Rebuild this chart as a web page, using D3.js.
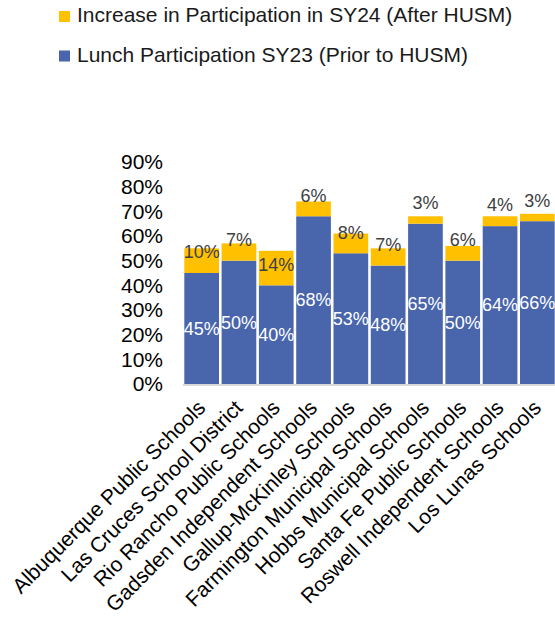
<!DOCTYPE html>
<html>
<head>
<meta charset="utf-8">
<script src="https://cdn.jsdelivr.net/npm/d3@7"></script>
<style>
  html, body { margin: 0; padding: 0; background: #fff; }
  svg { display: block; font-family: "Liberation Sans", Arial, sans-serif; }
</style>
</head>
<body>
<div id="chart"></div>
<script>
'use strict'

// districts along the x axis
const districts = [
    "Albuquerque Public Schools",
    "Las Cruces School District",
    "Rio Rancho Public Schools",
    "Gadsden Independent Schools",
    "Gallup-McKinley Schools",
    "Farmington Municipal Schools",
    "Hobbs Municipal Schools",
    "Santa Fe Public Schools",
    "Roswell Independent Schools",
    "Los Lunas Schools"
]

// lunch participation SY23 (before HUSM)
const sy23 = [0.45, 0.50, 0.40, 0.68, 0.53, 0.48, 0.65, 0.50, 0.64, 0.66]

// increase in participation SY24 (after HUSM)
const increase = [0.10, 0.07, 0.14, 0.06, 0.08, 0.07, 0.03, 0.06, 0.04, 0.03]

const yTicks = [0, 0.1, 0.2, 0.3, 0.4, 0.5, 0.6, 0.7, 0.8, 0.9]

const legendItems = [
    { label: "Increase in Participation in SY24 (After HUSM)", color: "#FFC000" },
    { label: "Lunch Participation SY23 (Prior to HUSM)", color: "#4965AC" }
]

////////////////////////////////////
//////////// svg setup /////////////
////////////////////////////////////

const svgWidth = 555
const svgHeight = 617

const svg = d3.select("#chart")
    .append("svg")
    .attr("width", svgWidth)
    .attr("height", svgHeight)

const x = d3.scaleBand()
    .domain(districts)
    .range([183, 556])
    .paddingInner(0.07)
    .paddingOuter(0.035)

const y = d3.scaleLinear()
    .domain([0, 0.9])
    .range([384, 162])

const rows = districts.map((d, i) => ({ name: d, base: sy23[i], inc: increase[i] }))

////////////////////////////////////
////////////// legend //////////////
////////////////////////////////////

const legend = svg.append("g")
    .selectAll("g")
    .data(legendItems)
    .join("g")
    .attr("transform", (d, i) => `translate(59, ${11 + i * 39.5})`)

legend.append("rect")
    .attr("width", 11)
    .attr("height", 11)
    .attr("fill", d => d.color)

legend.append("text")
    .attr("x", 18)
    .attr("y", 11)
    .attr("font-size", 21)
    .attr("fill", "#1a1a1a")
    .text(d => d.label)

////////////////////////////////////
/////////////// axes ///////////////
////////////////////////////////////

const yAxis = svg.append("g")
    .attr("transform", "translate(183,0)")
    .call(d3.axisLeft(y).tickValues(yTicks).tickFormat(d3.format(".0%")).tickSize(0).tickPadding(20))

yAxis.select(".domain").remove()
yAxis.selectAll("text")
    .attr("font-size", 21)
    .attr("font-family", "Liberation Sans, Arial, sans-serif")
    .attr("fill", "#000")

////////////////////////////////////
/////////////// bars ///////////////
////////////////////////////////////

const bars = svg.append("g")

bars.selectAll(".base")
    .data(rows)
    .join("rect")
    .attr("class", "base")
    .attr("x", d => x(d.name))
    .attr("width", x.bandwidth())
    .attr("y", d => y(d.base))
    .attr("height", d => y(0) - y(d.base))
    .attr("fill", "#4965AC")

bars.selectAll(".inc")
    .data(rows)
    .join("rect")
    .attr("class", "inc")
    .attr("x", d => x(d.name))
    .attr("width", x.bandwidth())
    .attr("y", d => y(d.base + d.inc))
    .attr("height", d => y(d.base) - y(d.base + d.inc))
    .attr("fill", "#FFC000")

// x axis line
svg.append("line")
    .attr("x1", 183)
    .attr("x2", 556)
    .attr("y1", y(0) + 1)
    .attr("y2", y(0) + 1)
    .attr("stroke", "#D9D9D9")
    .attr("stroke-width", 2)

////////////////////////////////////
/////////// data labels ////////////
////////////////////////////////////

const fmt = d3.format(".0%")

svg.append("g")
    .selectAll("text")
    .data(rows)
    .join("text")
    .attr("x", d => x(d.name) + x.bandwidth() / 2)
    .attr("y", d => (y(0) + y(d.base)) / 2)
    .attr("dy", "0.35em")
    .attr("text-anchor", "middle")
    .attr("font-size", 18)
    .attr("fill", "#fff")
    .text(d => fmt(d.base))

svg.append("g")
    .selectAll("text")
    .data(rows)
    .join("text")
    .attr("x", d => x(d.name) + x.bandwidth() / 2)
    .attr("y", d => y(d.base) - 21)
    .attr("dy", "0.35em")
    .attr("text-anchor", "middle")
    .attr("font-size", 18)
    .attr("fill", "#404040")
    .text(d => fmt(d.inc))

////////////////////////////////////
///////// category labels //////////
////////////////////////////////////

svg.append("g")
    .selectAll("text")
    .data(districts)
    .join("text")
    .attr("transform", d => `translate(${x(d) + x.bandwidth() / 2 + 5},${y(0) + 25}) rotate(-45)`)
    .attr("text-anchor", "end")
    .attr("font-size", 21)
    .attr("fill", "#000")
    .text(d => d)
</script>
</body>
</html>
